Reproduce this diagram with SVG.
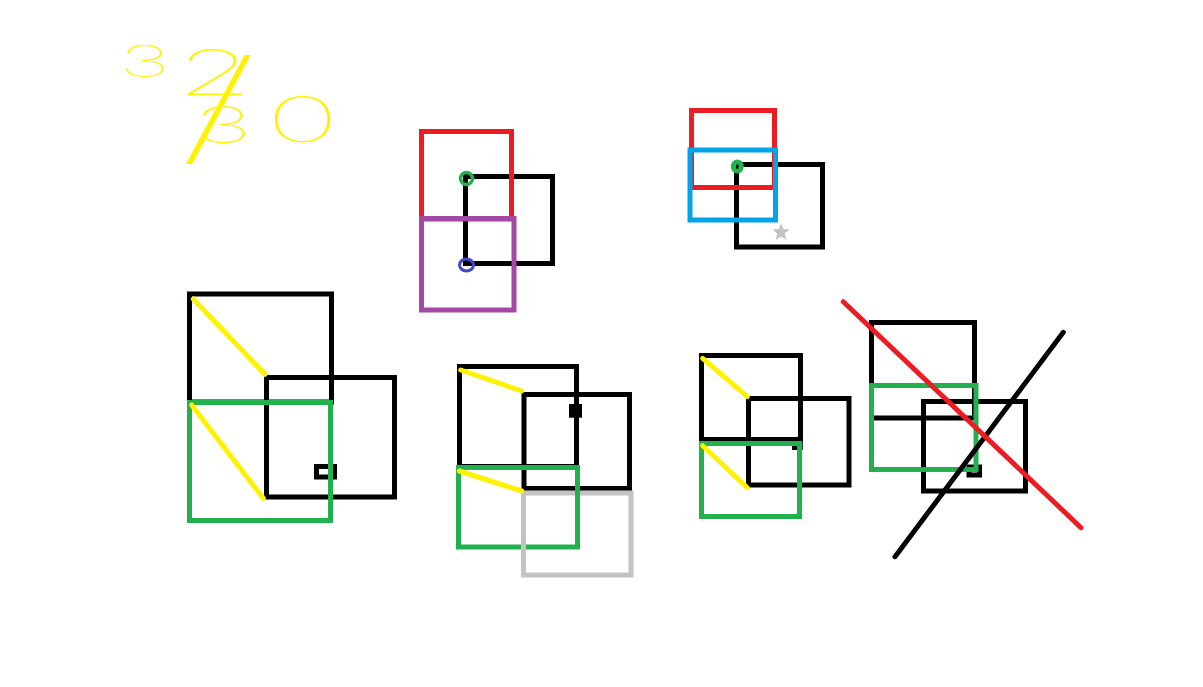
<svg xmlns="http://www.w3.org/2000/svg" width="1203" height="687" viewBox="0 0 1203 687">
<style>
.k{fill:none;stroke:#000;stroke-width:5}
.r{fill:none;stroke:#ED1C24;stroke-width:5}
.g{fill:none;stroke:#22B14C;stroke-width:5}
.p{fill:none;stroke:#A349A4;stroke-width:5}
.b{fill:none;stroke:#00A2E8;stroke-width:5}
.gr{fill:none;stroke:#C3C3C3;stroke-width:5}
.y{stroke:#FFF200;stroke-width:5;stroke-linecap:round}
.note{font-family:Inter,"Liberation Sans",sans-serif;font-weight:100;fill:#FFF200}
</style>
<rect width="1203" height="687" fill="#fff"/>
<g id="note">
<text class="note" transform="scale(2,1)"><tspan x="59.5" y="77" font-size="44">3</tspan><tspan x="88" y="95" font-size="62">2</tspan><tspan x="89" y="150" font-size="125">/</tspan><tspan x="97" y="143" font-size="50">3</tspan><tspan x="133" y="142" font-size="62">0</tspan></text>
</g>
<g id="group-a">
<rect class="k" x="465.5" y="176.5" width="87" height="87"/>
<rect class="r" x="421.5" y="131.5" width="90" height="87.5"/>
<rect class="p" x="421.5" y="218.5" width="92.5" height="91.5"/>
<circle cx="466.5" cy="178.5" r="6" fill="none" stroke="#22B14C" stroke-width="3.5"/>
<ellipse cx="466.5" cy="265" rx="7" ry="6" fill="none" stroke="#3F48CC" stroke-width="3"/>
</g>
<g id="group-b">
<rect class="k" x="736.5" y="164.5" width="86" height="82.5"/>
<rect class="r" x="691.5" y="110.5" width="83" height="77"/>
<rect class="b" x="690" y="150" width="85.5" height="70"/>
<ellipse cx="737.3" cy="166.5" rx="6.5" ry="7" fill="#22B14C"/>
<ellipse cx="737.3" cy="166.5" rx="1.3" ry="2.5" fill="#000"/>
<polygon points="781,223.5 783.4,229 789.5,229.5 784.8,233.5 786.3,240 781,236.6 775.7,240 777.2,233.5 772.5,229.5 778.6,229" fill="#C3C3C3"/>
</g>
<g id="group-c">
<rect class="k" x="189.5" y="294" width="142" height="108"/>
<rect class="k" x="266.5" y="377.5" width="128" height="119.5"/>
<rect class="k" x="316.5" y="466.5" width="18" height="10.5"/>
<rect class="g" x="189.5" y="402.5" width="141" height="118"/>
<line class="y" x1="193.3" y1="299" x2="265" y2="374.3"/>
<line class="y" x1="191.7" y1="405" x2="263.3" y2="498.3"/>
</g>
<g id="group-d">
<rect class="k" x="459.5" y="366.5" width="117" height="100"/>
<rect class="k" x="524" y="394.5" width="105.5" height="94"/>
<rect x="569" y="404" width="13" height="13.7" fill="#000"/>
<rect class="g" x="458.5" y="467.5" width="119" height="79.5"/>
<rect class="gr" x="523.5" y="493" width="107.5" height="82"/>
<line x1="577.5" y1="490" x2="577.5" y2="496" stroke="#22B14C" stroke-width="5"/>
<line class="y" x1="460.7" y1="370" x2="521.7" y2="391"/>
<line class="y" x1="459.3" y1="471" x2="521.7" y2="491"/>
</g>
<g id="group-e">
<rect class="k" x="701.5" y="355.5" width="99" height="84"/>
<line class="k" x1="800.3" y1="436" x2="800.3" y2="450"/>
<rect x="792" y="445.5" width="8" height="4.5" fill="#000"/>
<rect class="k" x="748.5" y="398.5" width="100.5" height="86.5"/>
<rect class="g" x="701.5" y="443.5" width="98" height="73"/>
<line class="y" x1="702.7" y1="358.3" x2="747.3" y2="396.7"/>
<line class="y" x1="702.7" y1="445.7" x2="747.3" y2="487.7"/>
</g>
<g id="group-f">
<rect class="k" x="871.5" y="322.5" width="103" height="95.5"/>
<rect class="k" x="923.5" y="401.5" width="102" height="89.5"/>
<rect class="k" x="969" y="467" width="10.5" height="8"/>
<rect class="g" x="871.5" y="385.5" width="104.5" height="84"/>
<line x1="1063.3" y1="332.3" x2="895" y2="556.7" stroke="#000" stroke-width="5" stroke-linecap="round"/>
<line x1="843.3" y1="301.7" x2="1081" y2="527.7" stroke="#ED1C24" stroke-width="5" stroke-linecap="round"/>
</g>
</svg>
